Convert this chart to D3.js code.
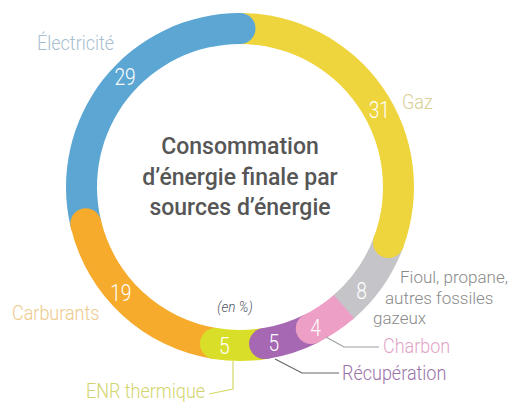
<!DOCTYPE html>
<html><head><meta charset="utf-8">
<script src="https://cdn.jsdelivr.net/npm/d3@7"></script>
<style>
  body { margin: 0; background: #fff; }
  svg { display: block; }
  text { font-family: Roboto, "Open Sans", sans-serif; }
</style>
</head><body>
<script>
// Final energy consumption by source, in %
const categories = ["Gaz", "Fioul, propane, autres fossiles gazeux", "Charbon", "Récupération", "ENR thermique", "Carburants", "Électricité"];
const values = [31, 8, 4, 5, 5, 19, 29];
const segmentColors = ["#efd53d", "#c5c5c9", "#ee9fc6", "#a668b2", "#d9df28", "#f6ab2d", "#5ca6d4"];
const nameColors = ["#d8cf97", "#8a8a8a", "#e2a3c6", "#9a72a8", "#d2d46c", "#eec98b", "#a7bece"];
const titleLines = ["Consommation", "d’énergie finale par", "sources d’énergie"];
const unitLabel = "(en %)";

const W = 520, H = 405;
const cx = 240, cy = 187;
const rOuter = 174, rInner = 143;
const rMid = (rOuter + rInner) / 2;
const halfW = (rOuter - rInner) / 2;
const capAngle = halfW / rMid;

const svg = d3.select("body").append("svg").attr("width", W).attr("height", H);
const g = svg.append("g").attr("transform", `translate(${cx},${cy})`);

const pie = d3.pie().sort(null).value(d => d).startAngle(0).endAngle(2 * Math.PI);
const arcs = pie(values);
const arc = d3.arc().innerRadius(rInner).outerRadius(rOuter);
const polar = (r, a) => [r * Math.sin(a), -r * Math.cos(a)];

// Each segment ends with a rounded cap laid over the next one
const drawOrder = [1, 0, 6, 5, 4, 3, 2];
drawOrder.forEach(i => {
  const a = arcs[i];
  g.append("path").attr("d", arc(a)).attr("fill", segmentColors[i]);
  const [x, y] = polar(rMid, a.endAngle);
  g.append("circle").attr("cx", x).attr("cy", y).attr("r", halfW).attr("fill", segmentColors[i]);
});

// Values on the ring, centred on the visible part of each segment
arcs.forEach((a, i) => {
  const ang = (a.startAngle + a.endAngle) / 2 + capAngle;
  const [x, y] = polar(rMid + 1, ang);
  g.append("text")
    .attr("transform", `translate(${x},${y + 8.5}) scale(0.8,1)`)
    .attr("text-anchor", "middle")
    .attr("font-size", 24).attr("font-weight", 300)
    .attr("fill", "#fff")
    .text(values[i]);
});

// Title in the centre
titleLines.forEach((t, k) => {
  svg.append("text")
    .attr("transform", `translate(${cx},${154 + k * 30.5})`)
    .attr("text-anchor", "middle")
    .attr("font-size", 23).attr("font-weight", 500)
    .attr("fill", "#565656")
    .text(t);
});

svg.append("text")
  .attr("transform", `translate(235,312) scale(0.9,1)`)
  .attr("text-anchor", "middle")
  .attr("font-size", 15).attr("font-style", "italic").attr("font-weight", 300)
  .attr("fill", "#4f5563")
  .text(unitLabel);

// Category names around the ring
const nameLayout = [
  { lines: ["Gaz"], x: 402, y: 109, size: 20, sx: 0.9 },
  { lines: ["Fioul, propane,", "autres fossiles", "gazeux"], xs: [400, 385, 373], y: 283, lh: 20.5, size: 17, sx: 1 },
  { lines: ["Charbon"], x: 383, y: 353, size: 20, sx: 0.9 },
  { lines: ["Récupération"], x: 342, y: 380, size: 20, sx: 0.9 },
  { lines: ["ENR thermique"], x: 86, y: 398, size: 20, sx: 0.9 },
  { lines: ["Carburants"], x: 12, y: 320, size: 20, sx: 0.9 },
  { lines: ["Électricité"], x: 37, y: 50, size: 20, sx: 0.9 }
];
nameLayout.forEach((L, i) => {
  L.lines.forEach((t, k) => {
    const x = L.xs ? L.xs[k] : L.x;
    svg.append("text")
      .attr("transform", `translate(${x},${L.y + k * (L.lh || 0)}) scale(${L.sx},1)`)
      .attr("font-size", L.size).attr("font-weight", 300)
      .attr("fill", nameColors[i])
      .text(t);
  });
});

// Leader lines for the small segments
const leaders = [
  { i: 4, pts: [[233, 361], [233, 389], [209, 394]], color: "#d6d863" },
  { i: 2, pts: [[326, 337], [344, 347], [379, 347]], color: "#a0a0a0" },
  { i: 3, pts: [[275, 359], [302, 373], [339, 373]], color: "#666" }
];
leaders.forEach(L => {
  svg.append("path")
    .attr("d", d3.line()(L.pts))
    .attr("fill", "none").attr("stroke", L.color).attr("stroke-width", 1.2);
});
</script>
</body></html>
